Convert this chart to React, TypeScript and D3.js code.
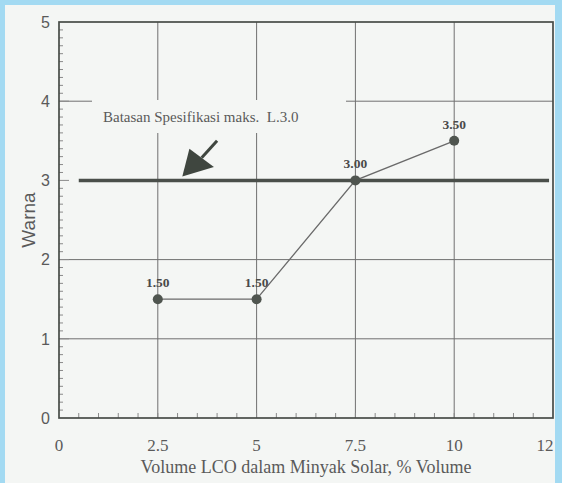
import * as d3 from "d3";
import { useEffect, useRef } from "react";

// data
const volumes = [2.5, 5, 7.5, 10];
const warna = [1.5, 1.5, 3.0, 3.5];
const pointLabels = ["1.50", "1.50", "3.00", "3.50"];

const xTicks = [0, 2.5, 5, 7.5, 10, 12.3];
const xTickLabels = ["0", "2.5", "5", "7.5", "10", "12"];
const yTicks = [0, 1, 2, 3, 4, 5];
const xGrid = [2.5, 5, 7.5, 10];
const yGrid = [1, 2, 4];

const specValue = 3.0;
const specRange = [0.5, 12.4];
const specText = "Batasan Spesifikasi maks.  L.3.0";

// annotation arrow in data units: tail, tip, head corners
const arrowTail: [number, number] = [4.0, 3.5];
const arrowTip: [number, number] = [3.12, 3.05];
const arrowHeadA: [number, number] = [3.3, 3.4];
const arrowHeadB: [number, number] = [3.92, 3.17];

const W = 562;
const H = 483;
const margin = { top: 22, right: 8, bottom: 65, left: 59 };

export default function App() {
  const svgRef = useRef<SVGSVGElement>(null);

  useEffect(() => {
    document.body.style.margin = "0";
    const svg = d3.select(svgRef.current);
    svg.selectAll("*").remove();

    const x = d3.scaleLinear().domain([0, 12.5]).range([margin.left, W - margin.right - 1]);
    const y = d3.scaleLinear().domain([0, 5]).range([H - margin.bottom, margin.top]);

    const ink = "#474c47";
    const grid = "#707070";
    const text = "#5a5a5a";

    // backgrounds
    svg.append("rect").attr("width", W).attr("height", H).attr("fill", "#a3daf2");
    svg.append("rect").attr("x", 5).attr("y", 5).attr("width", W - 12).attr("height", H - 5).attr("fill", "#f4f6f4");

    const g = svg.append("g");

    // gridlines
    g.selectAll(".vg")
      .data(xGrid)
      .join("line")
      .attr("x1", (d) => x(d))
      .attr("x2", (d) => x(d))
      .attr("y1", y(0))
      .attr("y2", y(5))
      .attr("stroke", grid)
      .attr("stroke-width", 1);
    g.selectAll(".hg")
      .data(yGrid)
      .join("line")
      .attr("x1", x(0))
      .attr("x2", x(12.5))
      .attr("y1", (d) => y(d))
      .attr("y2", (d) => y(d))
      .attr("stroke", grid)
      .attr("stroke-width", 1);

    // minor ticks
    const yMinor = d3.range(1, 50).map((i) => i / 10);
    g.selectAll(".ym")
      .data(yMinor)
      .join("line")
      .attr("x1", x(0))
      .attr("x2", (d) => x(0) + (Math.abs(d - Math.round(d)) < 1e-6 ? 10 : 4))
      .attr("y1", (d) => y(d))
      .attr("y2", (d) => y(d))
      .attr("stroke", "#8a8a8a")
      .attr("stroke-width", 1);
    const xMinor = d3.range(1, 25).map((i) => i / 2);
    g.selectAll(".xm")
      .data(xMinor)
      .join("line")
      .attr("x1", (d) => x(d))
      .attr("x2", (d) => x(d))
      .attr("y1", y(0))
      .attr("y2", y(0) - 5)
      .attr("stroke", "#8a8a8a")
      .attr("stroke-width", 1);

    // label box hides the grid behind the annotation
    g.append("rect")
      .attr("x", 92)
      .attr("y", 100)
      .attr("width", 254)
      .attr("height", 33)
      .attr("fill", "#f4f6f4");
    g.append("text")
      .attr("x", 103)
      .attr("y", 122)
      .attr("font-family", "'Liberation Serif', 'DejaVu Serif', serif")
      .attr("font-size", 15)
      .attr("fill", text)
      .style("white-space", "pre")
      .text(specText);

    // spec line
    g.append("line")
      .attr("x1", x(specRange[0]))
      .attr("x2", x(specRange[1]))
      .attr("y1", y(specValue))
      .attr("y2", y(specValue))
      .attr("stroke", "#4a4f4a")
      .attr("stroke-width", 3.5);

    // arrow
    const px = (p: [number, number]) => [x(p[0]), y(p[1])] as [number, number];
    const mid: [number, number] = [(arrowHeadA[0] + arrowHeadB[0]) / 2, (arrowHeadA[1] + arrowHeadB[1]) / 2];
    g.append("line")
      .attr("x1", px(arrowTail)[0])
      .attr("y1", px(arrowTail)[1])
      .attr("x2", px(mid)[0])
      .attr("y2", px(mid)[1])
      .attr("stroke", "#3f463f")
      .attr("stroke-width", 3);
    g.append("path")
      .attr("d", d3.line()([px(arrowTip), px(arrowHeadA), px(arrowHeadB)]) + "Z")
      .attr("fill", "#3f463f");

    // frame
    g.append("rect")
      .attr("x", x(0))
      .attr("y", y(5))
      .attr("width", x(12.5) - x(0))
      .attr("height", y(0) - y(5))
      .attr("fill", "none")
      .attr("stroke", ink)
      .attr("stroke-width", 1.7);

    // data line and points
    const pts = volumes.map((v, i) => [x(v), y(warna[i])] as [number, number]);
    g.append("path")
      .attr("d", d3.line()(pts))
      .attr("fill", "none")
      .attr("stroke", "#6a6a6a")
      .attr("stroke-width", 1.3);
    g.selectAll(".pt")
      .data(pts)
      .join("circle")
      .attr("cx", (d) => d[0])
      .attr("cy", (d) => d[1])
      .attr("r", 5)
      .attr("fill", "#4f554f");
    g.selectAll(".pl")
      .data(pts)
      .join("text")
      .attr("x", (d) => d[0])
      .attr("y", (d) => d[1] - 12)
      .attr("text-anchor", "middle")
      .attr("font-family", "'Liberation Serif', serif")
      .attr("font-weight", "bold")
      .attr("font-size", 13.5)
      .attr("fill", "#4a4a4a")
      .text((_, i) => pointLabels[i]);

    // tick labels
    g.selectAll(".yl")
      .data(yTicks)
      .join("text")
      .attr("x", 50)
      .attr("y", (d) => y(d))
      .attr("dy", "0.36em")
      .attr("text-anchor", "end")
      .attr("font-family", "'Liberation Sans', Arial, sans-serif")
      .attr("font-size", 16)
      .attr("fill", text)
      .text((d) => String(d));
    g.selectAll(".xl")
      .data(xTicks)
      .join("text")
      .attr("x", (d) => x(d))
      .attr("y", 451)
      .attr("text-anchor", "middle")
      .attr("font-family", "'Liberation Serif', serif")
      .attr("font-size", 17)
      .attr("fill", text)
      .text((_, i) => xTickLabels[i]);

    // axis titles
    g.append("text")
      .attr("x", (x(0) + x(12.5)) / 2)
      .attr("y", 473)
      .attr("text-anchor", "middle")
      .attr("font-family", "'Liberation Serif', serif")
      .attr("font-size", 18)
      .attr("fill", text)
      .text("Volume LCO dalam Minyak Solar, % Volume");
    g.append("text")
      .attr("transform", `translate(35, ${y(2.5)}) rotate(-90)`)
      .attr("text-anchor", "middle")
      .attr("font-family", "'Liberation Sans', Arial, sans-serif")
      .attr("font-size", 19)
      .attr("fill", text)
      .text("Warna");
  }, []);

  return (
    <div style={{ position: "absolute", left: 0, top: 0 }}>
      <svg ref={svgRef} width={W} height={H} style={{ display: "block" }}></svg>
    </div>
  );
}
